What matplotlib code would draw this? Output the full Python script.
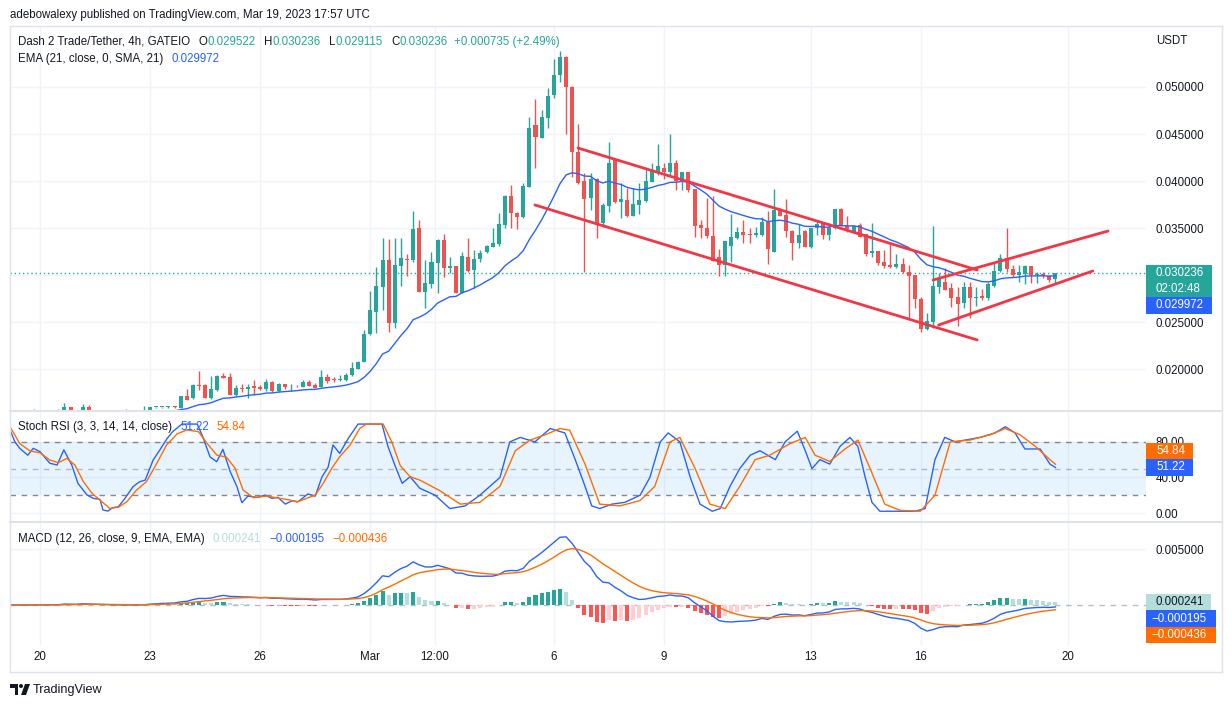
import matplotlib
matplotlib.use("Agg")
import matplotlib.pyplot as plt
import numpy as np
import pandas as pd
from matplotlib.patches import Rectangle, Polygon, Circle
from matplotlib.lines import Line2D
from matplotlib.transforms import IdentityTransform

W, H = 1232, 707
plt.rcParams['font.family'] = ['Liberation Sans', 'DejaVu Sans']

# ---------------- data ----------------
START = pd.Timestamp("2023-02-19 04:00")
BAR = pd.Timedelta(hours=4)

opens = [.01510, .01515, .01508, .01512, .01520, .01530, .01522, .01518, .01525, .01530,
         .01596, .01530, .01525, .01596, .01528, .01520, .01515, .01510, .01515, .01522,
         .01528, .01520, .01530, .01545, .01594, .01596, .01595, .01598, .01588, .01713,
         .01688, .01830, .01830, .01695, .01777, .01926, .01912, .01723, .01798, .01790,
         .01816, .01805, .01787, .01862, .01766, .01837, .01815, .01822, .01812, .01865,
         .01830, .01812, .01912, .01894, .01888, .01883, .01936, .02004, .02078, .02372,
         .02610, .02876, .03160, .02493, .03099, .03167, .03160, .03497, .02822, .02904,
         .03131, .03372, .03078, .03096, .02812, .03188, .03053, .03167, .03245, .03301,
         .03330, .03532, .03840, .03663, .03614, .03940, .04596, .04461, .04674, .04915,
         .05128, .05319, .05003, .04312, .03999, .03816, .04021, .03556, .03737, .04223,
         .03773, .03798, .03631, .03745, .03787, .03992, .04099, .04135, .04099, .04188,
         .03999, .04093, .03915, .03532, .03497, .03415, .03188, .03106, .03309, .03390,
         .03461, .03433, .03422, .03426, .03567, .03248, .03691, .03638, .03471, .03337,
         .03468, .03301, .03497, .03550, .03426, .03497, .03702, .03525, .03461, .03532,
         .03436, .03231, .03255, .03141, .03106, .03085, .03114, .03029, .03000, .02745,
         .02426, .02503, .02876, .02929, .02865, .02769, .02699, .02876, .02752, .02780,
         .02752, .02886, .03043, .03184, .03064, .03000, .03007, .03096, .03000, .03014,
         .02993, .029522]
highs = [.01520, .01522, .01518, .01525, .01575, .01540, .01535, .01530, .01570, .01638,
         .01600, .01545, .01628, .01617, .01540, .01535, .01530, .01525, .01530, .01570,
         .01540, .01535, .01606, .01600, .01600, .01600, .01603, .01603, .01715, .01787,
         .01837, .01979, .01837, .01926, .01936, .01957, .01957, .01830, .01837, .01837,
         .01883, .01830, .01890, .01869, .01848, .01840, .01837, .01830, .01883, .01883,
         .01848, .01989, .01944, .01912, .01936, .01954, .02078, .02088, .02415, .02830,
         .03085, .03394, .03383, .03394, .03394, .03223, .03681, .03585, .03160, .03248,
         .03380, .03436, .03195, .03100, .03245, .03390, .03266, .03266, .03319, .03497,
         .03656, .03851, .03957, .03673, .03979, .04684, .04872, .04755, .04986, .05298,
         .05383, .05330, .05010, .04606, .04082, .04082, .04028, .03763, .04418, .04230,
         .03976, .03929, .03922, .03976, .04135, .04188, .04394, .04188, .04497, .04223,
         .04100, .04095, .03920, .03585, .03816, .03840, .03273, .03365, .03646, .03514,
         .03585, .03503, .03514, .03620, .03684, .03915, .03709, .03805, .03475, .03539,
         .03475, .03500, .03585, .03567, .03550, .03705, .03709, .03628, .03532, .03550,
         .03440, .03550, .03258, .03266, .03327, .03220, .03184, .03106, .03003, .02769,
         .02593, .03521, .03018, .03071, .02912, .02876, .02929, .02929, .02876, .02851,
         .02929, .03141, .03220, .03503, .03106, .03106, .03106, .03100, .03035, .03035,
         .02995, .030236]
lows = [.01500, .01505, .01500, .01505, .01510, .01515, .01510, .01505, .01515, .01525,
        .01520, .01515, .01520, .01520, .01510, .01505, .01500, .01498, .01505, .01512,
        .01515, .01510, .01520, .01540, .01590, .01590, .01590, .01590, .01585, .01668,
        .01681, .01777, .01688, .01681, .01766, .01904, .01723, .01713, .01755, .01688,
        .01723, .01777, .01766, .01759, .01755, .01784, .01770, .01809, .01805, .01823,
        .01795, .01805, .01855, .01865, .01876, .01876, .01926, .01997, .02073, .02362,
        .02383, .02628, .02397, .02436, .02883, .02989, .03141, .02822, .02652, .02859,
        .02805, .02982, .03018, .02810, .02805, .03035, .02859, .03141, .03231, .03295,
        .03312, .03497, .03497, .03489, .03609, .03935, .04135, .04455, .04561, .04886,
        .05056, .04497, .04046, .03970, .03035, .03691, .03397, .03514, .03673, .03765,
        .03610, .03620, .03625, .03646, .03780, .03986, .04064, .04021, .04064, .03904,
        .03904, .03886, .03407, .03397, .03390, .03150, .02989, .02989, .03141, .03380,
        .03337, .03337, .03401, .03420, .03117, .03245, .03625, .03401, .03160, .03284,
        .03295, .03284, .03426, .03380, .03372, .03494, .03520, .03461, .03444, .03404,
        .03202, .03188, .03106, .03071, .03078, .03071, .03018, .02539, .02652, .02390,
        .02415, .02433, .02805, .02838, .02663, .02457, .02646, .02539, .02673, .02734,
        .02734, .02876, .03035, .03035, .02982, .02929, .02901, .02912, .02912, .02971,
        .02929, .029115]
closes = [.01515, .01508, .01512, .01520, .01530, .01522, .01518, .01525, .01530, .01596,
          .01530, .01525, .01596, .01528, .01520, .01515, .01510, .01515, .01522, .01528,
          .01520, .01530, .01545, .01596, .01596, .01597, .01598, .01595, .01710, .01670,
          .01830, .01819, .01695, .01787, .01926, .01908, .01723, .01801, .01787, .01812,
          .01801, .01787, .01862, .01766, .01841, .01809, .01822, .01815, .01859, .01823,
          .01801, .01912, .01872, .01888, .01894, .01936, .02011, .02075, .02369, .02628,
          .02883, .03160, .02493, .03106, .03178, .03160, .03486, .02822, .02912, .03135,
          .03372, .03078, .03096, .02812, .03202, .03046, .03167, .03231, .03309, .03344,
          .03543, .03840, .03656, .03614, .03947, .04561, .04471, .04684, .04907, .05128,
          .05319, .05003, .04312, .03976, .03809, .04021, .03532, .03745, .04188, .03773,
          .03809, .03631, .03752, .03798, .03999, .04106, .04160, .04099, .04188, .03999,
          .04093, .03904, .03525, .03503, .03415, .03152, .03106, .03362, .03401, .03461,
          .03426, .03426, .03444, .03567, .03277, .03691, .03628, .03471, .03337, .03426,
          .03301, .03497, .03539, .03426, .03497, .03702, .03525, .03486, .03525, .03407,
          .03223, .03255, .03131, .03099, .03082, .03114, .03029, .02993, .02745, .02426,
          .02511, .02886, .02965, .02840, .02759, .02695, .02876, .02752, .02766, .02752,
          .02901, .03043, .03184, .03064, .03000, .03035, .03096, .03000, .03014, .02993,
          .02952, .030236]

tick_labels = ["20", "23", "26", "Mar", "12:00", "6", "9", "13", "16", "20"]
tick_times = ["2023-02-20", "2023-02-23", "2023-02-26", "2023-03-01", "2023-03-02 18:00",
              "2023-03-06", "2023-03-09", "2023-03-13", "2023-03-16", "2023-03-20"]

price_ticks = [0.020, 0.025, 0.030, 0.035, 0.040, 0.045, 0.050]
stoch_ticks = [0, 40, 80]
macd_ticks = [0.005]

# Stoch RSI (bar index, value)
stoch_k_idx = [0.1, 0.9, 1.7, 3.0, 3.9, 5.0, 6.6, 7.8, 8.9, 10.2, 11.2, 12.7, 13.7, 14.8, 15.3, 16.1,
               16.9, 17.8, 18.9, 20.2, 21.3, 22.2, 23.5, 24.6, 25.8, 26.7, 28.2, 30.7, 31.6, 32.8,
               33.9, 34.9, 36.1, 37.2, 38.0, 39.0, 40.5, 41.8, 42.9, 43.9, 45.1, 46.2, 47.2, 48.8,
               50.0, 51.1, 52.1, 52.9, 54.0, 55.4, 57.0, 60.9, 61.9, 63.0, 64.2, 65.5, 67.1, 69.6,
               72.0, 74.5, 76.9, 80.2, 81.8, 83.5, 85.9, 88.4, 90.8, 92.5, 94.1, 95.2, 96.5, 98.5,
               100.6, 103.1, 104.7, 106.4, 107.7, 109.6, 111.3, 112.9, 114.9, 116.2, 117.8, 119.4,
               121.1, 122.7, 125.2, 126.8, 128.8, 130.1, 131.2, 132.5, 134.1, 135.8, 137.4, 138.7,
               139.9, 141.0, 142.3, 145.6, 148.0, 149.7, 151.3, 152.9, 154.6, 156.2, 158.7, 161.1,
               162.8, 164.4, 166.0, 168.5, 170.1, 171.0]
stoch_k = [93.4, 80, 72.7, 65, 72.7, 69, 56, 54, 71, 54, 33.4, 20.2, 16.5, 15.4, 3.4, 2.2,
           6, 7, 16.5, 29.6, 35.2, 37, 59.6, 71, 84, 91.5, 100, 100, 86, 63,
           57.7, 71.6, 46.5, 29.6, 11.6, 19, 17.6, 20.2, 16.5, 17.6, 10, 13.8, 12.7, 21.4,
           19, 40.8, 51.4, 76.5, 67, 84, 100, 100, 74.6, 54, 33.4, 40.8, 27.8, 20,
           5, 8, 20, 40, 80, 85, 80, 95, 90, 60, 30, 8, 5, 10,
           12, 20, 40, 80, 90, 80, 40, 10, 2, 5, 30, 50,
           65, 70, 60, 80, 92, 70, 50, 60, 55, 75, 85, 75,
           40, 12, 2, 2, 2, 5, 60, 85, 80, 82, 85, 90,
           97, 90, 72, 72, 55, 51.22]
stoch_d_idx = [0.1, 1.7, 3.4, 5.0, 6.6, 8.0, 9.4, 10.7, 12.1, 13.5, 14.8, 16.4, 17.8, 19.2, 20.8,
               22.4, 24.1, 25.7, 27.4, 29.0, 30.9, 32.3, 33.9, 35.5, 36.9, 38.2, 39.9, 42.1, 44.2,
               45.9, 47.0, 48.6, 50.0, 51.3, 52.7, 54.0, 55.7, 57.3, 58.4, 61.1, 62.5, 63.9, 65.5,
               67.1, 70.4, 73.7, 76.9, 80.2, 82.7, 85.1, 87.6, 90.0, 91.6, 94.1, 96.5, 99.8, 103.1,
               105.5, 108.0, 109.6, 112.1, 114.5, 117.0, 119.4, 121.9, 124.3, 127.6, 130.1, 131.7,
               134.1, 136.6, 138.7, 140.7, 143.1, 145.6, 148.9, 151.3, 153.8, 157.0, 160.3, 162.8,
               165.2, 167.7, 170.1, 171.0]
stoch_d = [97, 78, 69.7, 67.8, 59.6, 56.6, 61.5, 54, 35.2, 22.2, 14.6, 5.3, 6.4, 12.7, 25.9,
           35.2, 55.9, 76.5, 88.9, 93.4, 91.5, 78.4, 65.2, 62.7, 50.3, 25.9, 17.2, 19.1, 16.5,
           14.6, 12.4, 16.5, 20.2, 33.4, 50.3, 63.3, 76.5, 95.3, 100, 100, 80, 53.2, 40.8,
           37, 25, 10, 12, 30, 70, 82, 88, 95, 93, 55, 10, 8, 14,
           30, 80, 85, 50, 10, 5, 30, 60, 65, 78, 85, 65,
           58, 72, 82, 50, 10, 3, 2, 20, 80, 82, 88, 95,
           88, 75, 60, 54.84]

# drawn trend lines: [start bar, end bar], [start price, end price]
trend_x = [[92.95, 158.2], [85.9, 158.2], [151.0, 179.6], [151.9, 177.1]]
trend_y = [[0.04351, 0.03053], [0.03745, 0.02309], [0.02947, 0.03468], [0.02468, 0.03043]]

last_ohlc = ["0.029522", "0.030236", "0.029115", "0.030236"]
last_change = "+0.000735 (+2.49%)"
ema_last = 0.029972
stoch_last = (51.22, 54.84)
macd_last = (0.000241, -0.000195, -0.000436)
countdown = "02:02:48"

# ---------------- derived series ----------------
o = np.array(opens); h = np.array(highs); l = np.array(lows); c = np.array(closes)
n = len(c)
idx = np.arange(n)
cs = pd.Series(c)
ema21 = cs.ewm(span=21, adjust=False).mean().values
macd = (cs.ewm(span=12, adjust=False).mean() - cs.ewm(span=26, adjust=False).mean())
signal = macd.ewm(span=9, adjust=False).mean()
hist = (macd - signal).values
macd = macd.values; signal = signal.values

tick_pos = [(pd.Timestamp(t) - START) / BAR for t in tick_times]

# ---------------- style ----------------
UP = '#26a69a'; DN = '#ef5350'; BLUE = '#2962ff'; ORANGE = '#ff6d00'
TXT = '#131722'; GRID = '#f0f3fa'; BORDER = '#e0e3eb'
FS = 8.3

fig = plt.figure(figsize=(W / 100, H / 100), dpi=100)
fig.patch.set_facecolor('white')

def px_rect(x0, y0, x1, y1):
    return [x0 / W, 1 - y1 / H, (x1 - x0) / W, (y1 - y0) / H]

ax1 = fig.add_axes(px_rect(10, 26, 1146, 411))
ax2 = fig.add_axes(px_rect(10, 411, 1146, 522))
ax3 = fig.add_axes(px_rect(10, 522, 1146, 645))

XL = (0.1, 185.8)
for ax in (ax1, ax2, ax3):
    ax.set_xlim(*XL)
    for s in ax.spines.values():
        s.set_visible(False)
    ax.yaxis.tick_right()
    ax.tick_params(axis='y', length=0, pad=7.2, labelsize=FS, labelcolor=TXT)
    ax.tick_params(axis='x', length=0)
    ax.set_xticks(tick_pos)
    for tp in tick_pos:
        ax.axvline(tp, color=GRID, lw=1, zorder=0)

ax1.set_ylim(0.015533, 0.056489)
ax2.set_ylim(-10.1, 114.7)
ax3.set_ylim(-0.003571, 0.007411)

# the 0.030000 scale label sits under the last-price box, so it is left blank
ax1.set_yticks(price_ticks)
ax1.set_yticklabels(["" if abs(v - c[-1]) < 0.001 else f"{v:.6f}" for v in price_ticks])
ax2.set_yticks(stoch_ticks)
ax2.set_yticklabels([f"{v:.2f}" for v in stoch_ticks])
ax3.set_yticks(macd_ticks)
ax3.set_yticklabels([f"{v:.6f}" for v in macd_ticks])
for ax, tks in ((ax1, price_ticks), (ax2, stoch_ticks), (ax3, macd_ticks)):
    for v in tks:
        ax.axhline(v, color=GRID, lw=1, zorder=0)

ax1.set_xticklabels([]); ax2.set_xticklabels([])
ax3.set_xticklabels(tick_labels, fontsize=FS, color=TXT)
ax3.tick_params(axis='x', pad=4)

# ---------------- price panel ----------------
up = c >= o
col = np.where(up, UP, DN)
ax1.vlines(idx, l, h, colors=col, lw=1, zorder=2)
body_lo = np.minimum(o, c)
body_h = np.maximum(np.abs(c - o), 0.00009)
ax1.bar(idx, body_h, bottom=body_lo, width=0.66, color=col, linewidth=0, zorder=3)
ax1.plot(idx, ema21, color=BLUE, lw=1, zorder=4)
for tx, ty in zip(trend_x, trend_y):
    ax1.plot(tx, ty, color='#f23645', lw=2, solid_capstyle='round', zorder=5)
ax1.axhline(c[-1], color=UP, lw=1, ls=(0, (1, 2)), zorder=1)

# ---------------- stoch panel ----------------
ax2.axhspan(20, 80, color='#2196f3', alpha=0.1, lw=0, zorder=0)
for v in (80, 50, 20):
    ax2.axhline(v, color='#787b86', lw=1, ls=(0, (4, 4)), alpha=0.9 if v != 50 else 0.5, zorder=1)
ax2.plot(stoch_k_idx, stoch_k, color=BLUE, lw=1, zorder=3)
ax2.plot(stoch_d_idx, stoch_d, color=ORANGE, lw=1, zorder=3)

# ---------------- MACD panel ----------------
hcol = []
for i, v in enumerate(hist):
    prev = hist[i - 1] if i > 0 else v
    if v >= 0:
        hcol.append('#26a69a' if v >= prev else '#b2dfdb')
    else:
        hcol.append('#ffcdd2' if v >= prev else '#ff5252')
ax3.bar(idx, hist, width=0.66, color=hcol, linewidth=0, zorder=2)
ax3.axhline(0, color='#787b86', lw=1, ls=(0, (4, 4)), alpha=0.5, zorder=1)
ax3.plot(idx, macd, color=BLUE, lw=1, zorder=3)
ax3.plot(idx, signal, color=ORANGE, lw=1, zorder=3)

# ---------------- frame ----------------
ID = IdentityTransform()
def line_px(x0, y0, x1, y1, color=BORDER, lw=1):
    fig.add_artist(Line2D([x0, x1], [H - y0, H - y1], color=color, lw=lw, transform=ID, zorder=4))
line_px(10, 26, 1222, 26)
line_px(10, 672, 1222, 672)
line_px(10, 26, 10, 672)
line_px(1222, 26, 1222, 672)
line_px(10, 411, 1222, 411, lw=1.5)
line_px(10, 522, 1222, 522, lw=1.5)

# ---------------- texts ----------------
renderer = fig.canvas.get_renderer()
def runs(x, y, parts, size=FS):
    for s, colr, gap in parts:
        t = fig.text(x / W, 1 - y / H, s, color=colr, fontsize=size, ha='left', va='center')
        x += t.get_window_extent(renderer=renderer).width + gap

fig.text(10 / W, 1 - 15 / H, "adebowalexy published on TradingView.com, Mar 19, 2023 17:57 UTC",
         color=TXT, fontsize=FS, ha='left', va='center')
runs(18, 42, [("Dash 2 Trade/Tether, 4h, GATEIO", TXT, 8),
              ("O", TXT, 0.5), (last_ohlc[0], UP, 8),
              ("H", TXT, 0.5), (last_ohlc[1], UP, 8),
              ("L", TXT, 0.5), (last_ohlc[2], UP, 8),
              ("C", TXT, 0.5), (last_ohlc[3], UP, 6),
              (last_change, UP, 0)])
runs(18, 59, [("EMA (21, close, 0, SMA, 21)", TXT, 8), (f"{ema_last:.6f}", BLUE, 0)])
runs(18, 427, [("Stoch RSI (3, 3, 14, 14, close)", TXT, 8), (f"{stoch_last[0]:.2f}", BLUE, 8),
               (f"{stoch_last[1]:.2f}", ORANGE, 0)])
def fmt6(v):
    return (f"{v:.6f}").replace('-', '\u2212')
runs(18, 539, [("MACD (12, 26, close, 9, EMA, EMA)", TXT, 8), (fmt6(macd_last[0]), '#b2dfdb', 8),
               (fmt6(macd_last[1]), BLUE, 8), (fmt6(macd_last[2]), ORANGE, 0)])

fig.text(1156 / W, 1 - 40.5 / H, "USDT", color=TXT, fontsize=FS, ha='left', va='center')

# value boxes on the right scale
LH = 16.3
def value_boxes(ax, entries, upward=False):
    # entries: (value, [lines], facecolor, textcolor, width)
    placed = []
    ys = [ax.transData.transform((0, e[0]))[1] for e in entries]
    if not upward:
        prev_bottom = None
        for e, yc in zip(entries, ys):
            top = yc + LH / 2
            if prev_bottom is not None:
                top = min(top, prev_bottom)
            hgt = LH * len(e[1])
            placed.append((e, top - hgt, hgt))
            prev_bottom = top - hgt
    else:
        prev_top = None
        for e, yc in zip(entries[::-1], ys[::-1]):
            bottom = yc - LH / 2
            if prev_top is not None:
                bottom = max(bottom, prev_top)
            hgt = LH * len(e[1])
            placed.append((e, bottom, hgt))
            prev_top = bottom + hgt
    for e, bottom, hgt in placed:
        fig.add_artist(Rectangle((1146, bottom), e[4], hgt, transform=ID, facecolor=e[2],
                                 edgecolor='none', zorder=5))
        for k, s in enumerate(e[1]):
            ty = bottom + hgt - LH * (k + 0.5)
            tx = 1151 if s.startswith('\u2212') else 1156
            fig.text(tx / W, ty / H, s, color=e[3], fontsize=FS, ha='left', va='center',
                     zorder=6, fontweight='medium')

value_boxes(ax1, [(c[-1], [last_ohlc[3], countdown], UP, 'white', 66),
                  (ema_last, [f"{ema_last:.6f}"], BLUE, 'white', 66)])
value_boxes(ax2, [(stoch_last[1], [f"{stoch_last[1]:.2f}"], ORANGE, 'white', 47),
                  (stoch_last[0], [f"{stoch_last[0]:.2f}"], BLUE, 'white', 47)], upward=True)
value_boxes(ax3, [(macd_last[0], [fmt6(macd_last[0])], '#b2dfdb', TXT, 65),
                  (macd_last[1], [fmt6(macd_last[1])], BLUE, 'white', 70),
                  (macd_last[2], [fmt6(macd_last[2])], ORANGE, 'white', 70)])

# TradingView logo + wordmark
fig.add_artist(Polygon([(10, H - 684), (18, H - 684), (18, H - 695), (14.5, H - 695), (14.5, H - 688), (10, H - 688)],
                       closed=True, transform=ID, facecolor=TXT, edgecolor='none', zorder=5))
fig.add_artist(Circle((21, H - 686), 2.0, transform=ID, facecolor=TXT, edgecolor='none', zorder=5))
fig.add_artist(Polygon([(25, H - 684), (30, H - 684), (26, H - 695), (21, H - 695)],
                       closed=True, transform=ID, facecolor=TXT, edgecolor='none', zorder=5))
fig.text(33 / W, 1 - 690 / H, "TradingView", color=TXT, fontsize=9.1, ha='left', va='center')

fig.savefig("out.png", dpi=100, facecolor='white')
